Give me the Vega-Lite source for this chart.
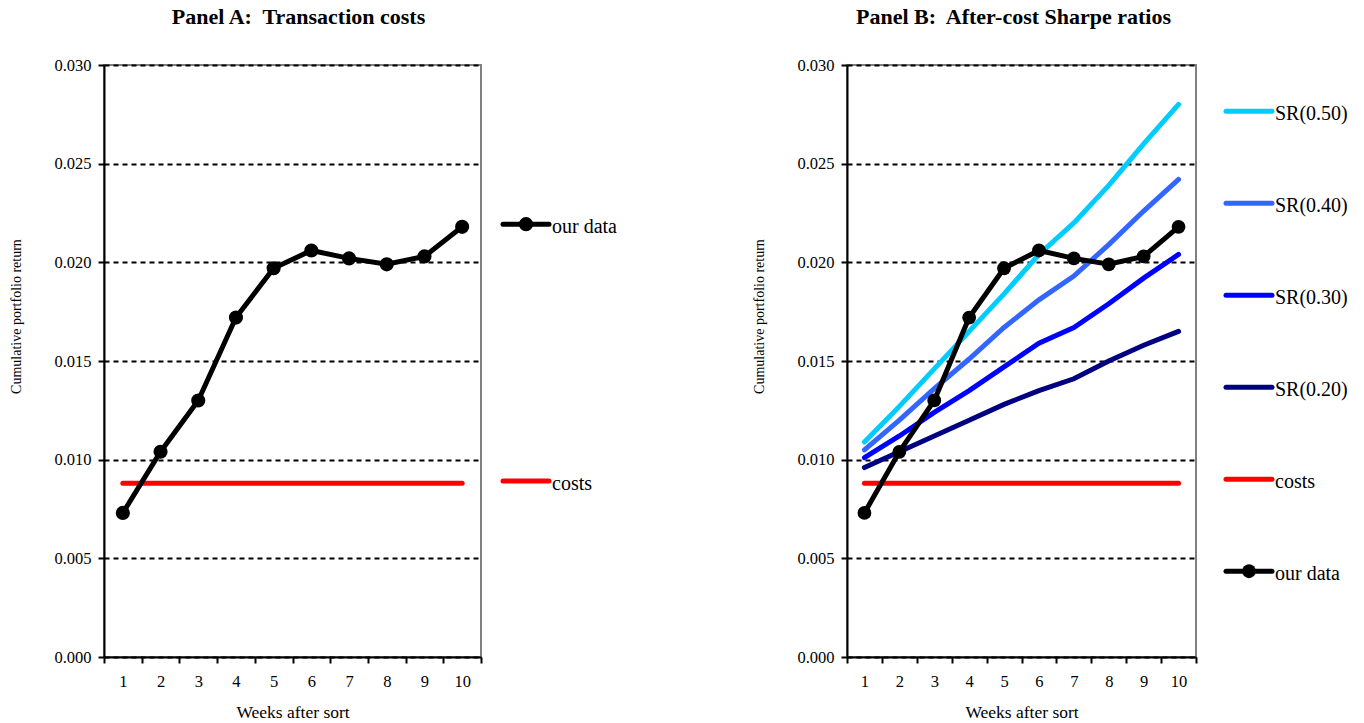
{
  "$schema": "https://vega.github.io/schema/vega-lite/v6.json",
  "background": "white",
  "padding": {"left": 8, "top": 5, "right": 5, "bottom": 5},
  "datasets": {
    "ourdata": [
      {"week": 1, "value": 0.0073, "series": "our data"},
      {"week": 2, "value": 0.0104, "series": "our data"},
      {"week": 3, "value": 0.0130, "series": "our data"},
      {"week": 4, "value": 0.0172, "series": "our data"},
      {"week": 5, "value": 0.0197, "series": "our data"},
      {"week": 6, "value": 0.0206, "series": "our data"},
      {"week": 7, "value": 0.0202, "series": "our data"},
      {"week": 8, "value": 0.0199, "series": "our data"},
      {"week": 9, "value": 0.0203, "series": "our data"},
      {"week": 10, "value": 0.0218, "series": "our data"}
    ],
    "costs": [
      {"week": 1, "value": 0.0088, "series": "costs"},
      {"week": 2, "value": 0.0088, "series": "costs"},
      {"week": 3, "value": 0.0088, "series": "costs"},
      {"week": 4, "value": 0.0088, "series": "costs"},
      {"week": 5, "value": 0.0088, "series": "costs"},
      {"week": 6, "value": 0.0088, "series": "costs"},
      {"week": 7, "value": 0.0088, "series": "costs"},
      {"week": 8, "value": 0.0088, "series": "costs"},
      {"week": 9, "value": 0.0088, "series": "costs"},
      {"week": 10, "value": 0.0088, "series": "costs"}
    ],
    "sr": [
      {"week": 1, "value": 0.0096, "series": "SR(0.20)"},
      {"week": 2, "value": 0.0104, "series": "SR(0.20)"},
      {"week": 3, "value": 0.0112, "series": "SR(0.20)"},
      {"week": 4, "value": 0.0120, "series": "SR(0.20)"},
      {"week": 5, "value": 0.0128, "series": "SR(0.20)"},
      {"week": 6, "value": 0.0135, "series": "SR(0.20)"},
      {"week": 7, "value": 0.0141, "series": "SR(0.20)"},
      {"week": 8, "value": 0.0150, "series": "SR(0.20)"},
      {"week": 9, "value": 0.0158, "series": "SR(0.20)"},
      {"week": 10, "value": 0.0165, "series": "SR(0.20)"},
      {"week": 1, "value": 0.0101, "series": "SR(0.30)"},
      {"week": 2, "value": 0.0112, "series": "SR(0.30)"},
      {"week": 3, "value": 0.0124, "series": "SR(0.30)"},
      {"week": 4, "value": 0.0135, "series": "SR(0.30)"},
      {"week": 5, "value": 0.0147, "series": "SR(0.30)"},
      {"week": 6, "value": 0.0159, "series": "SR(0.30)"},
      {"week": 7, "value": 0.0167, "series": "SR(0.30)"},
      {"week": 8, "value": 0.0179, "series": "SR(0.30)"},
      {"week": 9, "value": 0.0192, "series": "SR(0.30)"},
      {"week": 10, "value": 0.0204, "series": "SR(0.30)"},
      {"week": 1, "value": 0.0105, "series": "SR(0.40)"},
      {"week": 2, "value": 0.0120, "series": "SR(0.40)"},
      {"week": 3, "value": 0.0136, "series": "SR(0.40)"},
      {"week": 4, "value": 0.0151, "series": "SR(0.40)"},
      {"week": 5, "value": 0.0167, "series": "SR(0.40)"},
      {"week": 6, "value": 0.0181, "series": "SR(0.40)"},
      {"week": 7, "value": 0.0193, "series": "SR(0.40)"},
      {"week": 8, "value": 0.0209, "series": "SR(0.40)"},
      {"week": 9, "value": 0.0226, "series": "SR(0.40)"},
      {"week": 10, "value": 0.0242, "series": "SR(0.40)"},
      {"week": 1, "value": 0.0109, "series": "SR(0.50)"},
      {"week": 2, "value": 0.0127, "series": "SR(0.50)"},
      {"week": 3, "value": 0.0146, "series": "SR(0.50)"},
      {"week": 4, "value": 0.0165, "series": "SR(0.50)"},
      {"week": 5, "value": 0.0184, "series": "SR(0.50)"},
      {"week": 6, "value": 0.0204, "series": "SR(0.50)"},
      {"week": 7, "value": 0.0220, "series": "SR(0.50)"},
      {"week": 8, "value": 0.0239, "series": "SR(0.50)"},
      {"week": 9, "value": 0.0260, "series": "SR(0.50)"},
      {"week": 10, "value": 0.0280, "series": "SR(0.50)"}
    ],
    "legendA": [
      {"label": "our data"},
      {"label": "costs"}
    ],
    "legendB": [
      {"label": "SR(0.50)"},
      {"label": "SR(0.40)"},
      {"label": "SR(0.30)"},
      {"label": "SR(0.20)"},
      {"label": "costs"},
      {"label": "our data"}
    ]
  },
  "config": {
    "font": "Liberation Serif",
    "view": {"stroke": "#808080", "strokeWidth": 2},
    "axis": {
      "domainColor": "black",
      "domainWidth": 2,
      "tickColor": "black",
      "tickWidth": 2,
      "tickSize": 6,
      "labelFont": "Liberation Serif",
      "labelFontSize": 16.5,
      "labelColor": "black",
      "titleFont": "Liberation Serif",
      "titleFontWeight": "normal",
      "titleColor": "black"
    },
    "title": {"font": "Liberation Serif", "fontSize": 22, "fontWeight": "bold", "color": "black", "anchor": "middle", "offset": 28}
  },
  "bounds": "flush",
  "spacing": 21,
  "hconcat": [
    {
      "width": 377,
      "height": 592,
      "title": {"text": "Panel A:\u00a0 Transaction costs", "dx": 6},
      "encoding": {
        "x": {"field": "week", "type": "ordinal", "scale": {"type": "band", "paddingInner": 0, "paddingOuter": 0},
          "axis": {"title": "Weeks after sort", "tickBand": "extent", "labelAngle": 0, "labelPadding": 10, "titleFontSize": 17.5, "titlePadding": 14, "grid": false}},
        "y": {"field": "value", "type": "quantitative", "scale": {"domain": [0, 0.03], "nice": false},
          "axis": {"title": "Cumulative portfolio return", "values": [0, 0.005, 0.01, 0.015, 0.02, 0.025, 0.03], "format": ".3f", "grid": true, "gridColor": "black", "gridDash": [5, 4], "gridWidth": 2, "titleFontSize": 14, "labelPadding": 7, "titlePadding": 30, "titleY": 251}},
        "color": {"field": "series", "type": "nominal", "legend": null,
          "scale": {"domain": ["SR(0.50)", "SR(0.40)", "SR(0.30)", "SR(0.20)", "costs", "our data"], "range": ["#00CCFF", "#3366FF", "#0000FF", "#000080", "#FF0000", "#000000"]}}
      },
      "layer": [
        {"data": {"name": "costs"}, "mark": {"type": "line", "strokeWidth": 5, "strokeCap": "round"}},
        {"data": {"name": "ourdata"}, "mark": {"type": "line", "strokeWidth": 5, "strokeCap": "round", "point": {"filled": true, "size": 200, "opacity": 1}}}
      ]
    },
    {
      "width": 324,
      "height": 592,
      "view": {"stroke": null},
      "data": {"name": "legendA"},
      "encoding": {
        "y": {"field": "label", "type": "nominal", "sort": null, "scale": {"type": "point", "padding": 0.652, "align": 0.475}, "axis": null},
        "color": {"field": "label", "type": "nominal", "legend": null,
          "scale": {"domain": ["SR(0.50)", "SR(0.40)", "SR(0.30)", "SR(0.20)", "costs", "our data"], "range": ["#00CCFF", "#3366FF", "#0000FF", "#000080", "#FF0000", "#000000"]}}
      },
      "layer": [
        {"mark": {"type": "rule", "strokeWidth": 5, "strokeCap": "round"},
          "encoding": {"x": {"datum": 1, "type": "quantitative", "scale": {"domain": [0, 324], "nice": false}, "axis": null}, "x2": {"datum": 47}}},
        {"transform": [{"filter": "datum.label === 'our data'"}],
          "mark": {"type": "circle", "size": 200, "opacity": 1},
          "encoding": {"x": {"datum": 24, "type": "quantitative"}}},
        {"mark": {"type": "text", "align": "left", "baseline": "middle", "fontSize": 20, "dy": 3},
          "encoding": {"x": {"datum": 50, "type": "quantitative"}, "text": {"field": "label"}, "color": {"value": "black"}}}
      ]
    },
    {
      "width": 349,
      "height": 592,
      "title": {"text": "Panel B:\u00a0 After-cost Sharpe ratios", "dx": -8},
      "encoding": {
        "x": {"field": "week", "type": "ordinal", "scale": {"type": "band", "paddingInner": 0, "paddingOuter": 0},
          "axis": {"title": "Weeks after sort", "tickBand": "extent", "labelAngle": 0, "labelPadding": 10, "titleFontSize": 17.5, "titlePadding": 14, "grid": false}},
        "y": {"field": "value", "type": "quantitative", "scale": {"domain": [0, 0.03], "nice": false},
          "axis": {"title": "Cumulative portfolio return", "values": [0, 0.005, 0.01, 0.015, 0.02, 0.025, 0.03], "format": ".3f", "grid": true, "gridColor": "black", "gridDash": [5, 4], "gridWidth": 2, "titleFontSize": 14, "labelPadding": 7, "titlePadding": 30, "titleY": 251}},
        "color": {"field": "series", "type": "nominal", "legend": null,
          "scale": {"domain": ["SR(0.50)", "SR(0.40)", "SR(0.30)", "SR(0.20)", "costs", "our data"], "range": ["#00CCFF", "#3366FF", "#0000FF", "#000080", "#FF0000", "#000000"]}}
      },
      "layer": [
        {"data": {"name": "sr"}, "mark": {"type": "line", "strokeWidth": 5, "strokeCap": "round"}},
        {"data": {"name": "costs"}, "mark": {"type": "line", "strokeWidth": 5, "strokeCap": "round"}},
        {"data": {"name": "ourdata"}, "mark": {"type": "line", "strokeWidth": 5, "strokeCap": "round", "point": {"filled": true, "size": 190, "opacity": 1}}}
      ]
    },
    {
      "width": 120,
      "height": 592,
      "view": {"stroke": null},
      "data": {"name": "legendB"},
      "encoding": {
        "y": {"field": "label", "type": "nominal", "sort": null, "scale": {"type": "point", "padding": 0.717, "align": 0.35}, "axis": null},
        "color": {"field": "label", "type": "nominal", "legend": null,
          "scale": {"domain": ["SR(0.50)", "SR(0.40)", "SR(0.30)", "SR(0.20)", "costs", "our data"], "range": ["#00CCFF", "#3366FF", "#0000FF", "#000080", "#FF0000", "#000000"]}}
      },
      "layer": [
        {"mark": {"type": "rule", "strokeWidth": 5, "strokeCap": "round"},
          "encoding": {"x": {"datum": 9, "type": "quantitative", "scale": {"domain": [0, 120], "nice": false}, "axis": null}, "x2": {"datum": 55}}},
        {"transform": [{"filter": "datum.label === 'our data'"}],
          "mark": {"type": "circle", "size": 190, "opacity": 1},
          "encoding": {"x": {"datum": 32, "type": "quantitative"}}},
        {"mark": {"type": "text", "align": "left", "baseline": "middle", "fontSize": 20, "dy": 3},
          "encoding": {"x": {"datum": 58, "type": "quantitative"}, "text": {"field": "label"}, "color": {"value": "black"}}}
      ]
    }
  ]
}
